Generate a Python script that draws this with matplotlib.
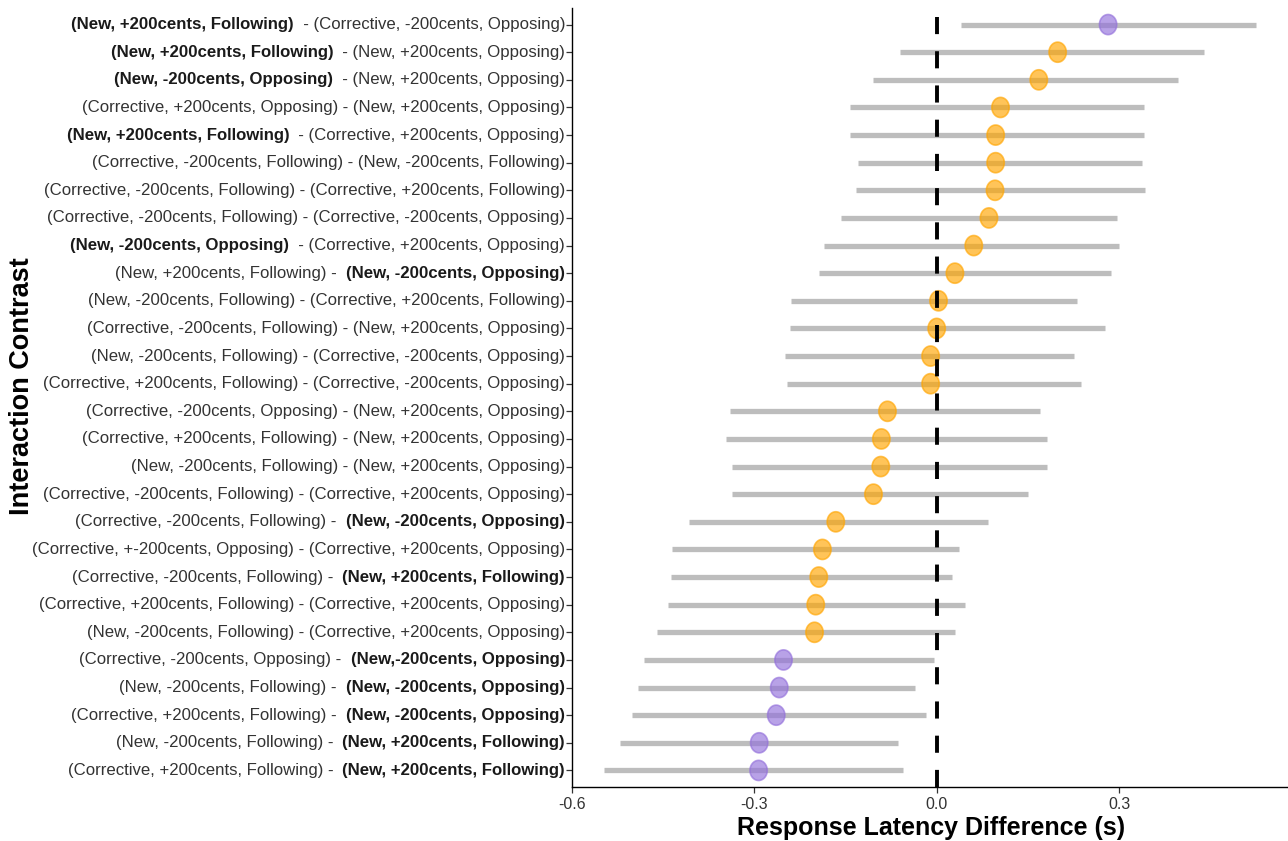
import numpy as np
import matplotlib
matplotlib.use("Agg")
import matplotlib.pyplot as plt
import matplotlib.transforms as mtransforms
from matplotlib.path import Path

plt.rcParams['font.family'] = ['Liberation Sans', 'DejaVu Sans']

# contrasts, top to bottom; bold_side: 0 none, 1 left term bold, 2 right term bold
left_terms = [
    "(New, +200cents, Following)", "(New, +200cents, Following)", "(New, -200cents, Opposing)",
    "(Corrective, +200cents, Opposing)", "(New, +200cents, Following)", "(Corrective, -200cents, Following)",
    "(Corrective, -200cents, Following)", "(Corrective, -200cents, Following)", "(New, -200cents, Opposing)",
    "(New, +200cents, Following)", "(New, -200cents, Following)", "(Corrective, -200cents, Following)",
    "(New, -200cents, Following)", "(Corrective, +200cents, Following)", "(Corrective, -200cents, Opposing)",
    "(Corrective, +200cents, Following)", "(New, -200cents, Following)", "(Corrective, -200cents, Following)",
    "(Corrective, -200cents, Following)", "(Corrective, +-200cents, Opposing)", "(Corrective, -200cents, Following)",
    "(Corrective, +200cents, Following)", "(New, -200cents, Following)", "(Corrective, -200cents, Opposing)",
    "(New, -200cents, Following)", "(Corrective, +200cents, Following)", "(New, -200cents, Following)",
    "(Corrective, +200cents, Following)",
]
right_terms = [
    "(Corrective, -200cents, Opposing)", "(New, +200cents, Opposing)", "(New, +200cents, Opposing)",
    "(New, +200cents, Opposing)", "(Corrective, +200cents, Opposing)", "(New, -200cents, Following)",
    "(Corrective, +200cents, Following)", "(Corrective, -200cents, Opposing)", "(Corrective, +200cents, Opposing)",
    "(New, -200cents, Opposing)", "(Corrective, +200cents, Following)", "(New, +200cents, Opposing)",
    "(Corrective, -200cents, Opposing)", "(Corrective, -200cents, Opposing)", "(New, +200cents, Opposing)",
    "(New, +200cents, Opposing)", "(New, +200cents, Opposing)", "(Corrective, +200cents, Opposing)",
    "(New, -200cents, Opposing)", "(Corrective, +200cents, Opposing)", "(New, +200cents, Following)",
    "(Corrective, +200cents, Opposing)", "(Corrective, +200cents, Opposing)", "(New,-200cents, Opposing)",
    "(New, -200cents, Opposing)", "(New, -200cents, Opposing)", "(New, +200cents, Following)",
    "(New, +200cents, Following)",
]
bold_side = [1, 1, 1, 0, 1, 0, 0, 0, 1, 2, 0, 0, 0, 0, 0, 0, 0, 0, 2, 0, 2, 0, 0, 2, 2, 2, 2, 2]

estimate = [0.282, 0.199, 0.168, 0.105, 0.097, 0.097, 0.096, 0.086, 0.061, 0.030,
            0.003, 0.000, -0.010, -0.010, -0.081, -0.091, -0.092, -0.104, -0.166, -0.188,
            -0.194, -0.199, -0.201, -0.252, -0.259, -0.264, -0.292, -0.293]
ci_low = [0.040, -0.061, -0.105, -0.142, -0.143, -0.130, -0.132, -0.158, -0.185, -0.194,
          -0.239, -0.241, -0.249, -0.247, -0.340, -0.346, -0.336, -0.336, -0.407, -0.435,
          -0.437, -0.442, -0.460, -0.481, -0.491, -0.501, -0.521, -0.547]
ci_high = [0.526, 0.440, 0.397, 0.341, 0.341, 0.338, 0.343, 0.297, 0.300, 0.287,
           0.231, 0.277, 0.226, 0.237, 0.170, 0.181, 0.181, 0.150, 0.084, 0.036,
           0.025, 0.046, 0.030, -0.005, -0.035, -0.018, -0.064, -0.056]

n = len(estimate)
ypos = np.arange(n, 0, -1)  # first row on top
lo = np.array(ci_low)
hi = np.array(ci_high)
significant = (lo > 0) | (hi < 0)
colors = np.where(significant, 'mediumpurple', 'orange')

# slightly tall ellipse, as in the (squeezed) original
t = np.linspace(0, 2 * np.pi, 60)
ellipse = Path(np.column_stack([0.86 * np.cos(t), np.sin(t)]), closed=True)

fig = plt.figure(figsize=(12.88, 8.41), dpi=100)
ax = fig.add_axes([572 / 1288, 1 - 787 / 841, 1 - 572 / 1288, (787 - 8) / 841])

ax.hlines(ypos, lo, hi, color='#bdbdbd', linewidth=3.8, zorder=1)
ax.scatter(estimate, ypos, s=210, c=colors, alpha=0.65, edgecolors=colors,
           linewidths=1.2, marker=ellipse, zorder=2)
ax.axvline(0, color='black', linewidth=2.8, linestyle=(0, (4.4, 4.4)), zorder=3)

ax.set_xlim(-0.6, 0.578)
ax.set_ylim(0.4, n + 0.6)
ax.set_xticks([-0.6, -0.3, 0.0, 0.3])
ax.set_xticklabels(['-0.6', '-0.3', '0.0', '0.3'])
ax.set_yticks(ypos)
ax.set_yticklabels([])
ax.tick_params(axis='both', length=4, width=0.9, color='#333333')
ax.tick_params(axis='x', labelsize=11.5, labelcolor='#333333', pad=3)
for side in ['top', 'right']:
    ax.spines[side].set_visible(False)
for side in ['left', 'bottom']:
    ax.spines[side].set_linewidth(1.0)

# two-part tick labels with one part in bold
trans = mtransforms.blended_transform_factory(ax.transAxes, ax.transData)
for y, lt, rt, b in zip(ypos, left_terms, right_terms, bold_side):
    if b == 2:
        ltxt, rtxt = lt + " -  ", rt
    else:
        ltxt, rtxt = lt, (" - " if b == 0 else "  - ") + rt
    right = ax.annotate(rtxt, xy=(0, y), xycoords=trans, xytext=(-5.0, 0),
                        textcoords='offset points', ha='right', va='center',
                        fontsize=12.1, color='#1a1a1a' if b == 2 else '#333333',
                        fontweight='bold' if b == 2 else 'normal', annotation_clip=False)
    ax.annotate(ltxt, xy=(0, 0.5), xycoords=right, ha='right', va='center',
                fontsize=12.1, color='#1a1a1a' if b == 1 else '#333333',
                fontweight='bold' if b == 1 else 'normal', annotation_clip=False)

fig.text(22 / 1288, 1 - 386 / 841, 'Interaction Contrast', rotation=90,
         ha='center', va='center', fontsize=19.5, fontweight='bold')
fig.text(931 / 1288, 1 - 828 / 841, 'Response Latency Difference (s)',
         ha='center', va='center', fontsize=18, fontweight='bold')

fig.savefig('out.png', dpi=100)
